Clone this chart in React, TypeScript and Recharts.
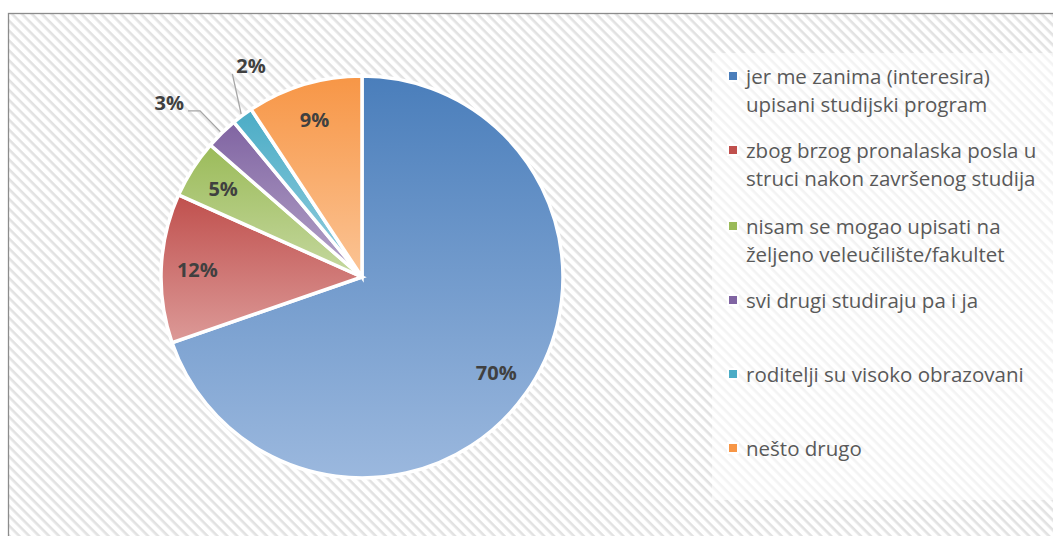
import React from 'react';
import { PieChart, Pie, Cell, Legend } from 'recharts';

const categories = [
  'jer me zanima (interesira) upisani studijski program',
  'zbog brzog pronalaska posla u struci nakon završenog studija',
  'nisam se mogao upisati na željeno veleučilište/fakultet',
  'svi drugi studiraju pa i ja',
  'roditelji su visoko obrazovani',
  'nešto drugo',
];
const shares = [69.7, 12.0, 4.7, 2.6, 1.7, 9.3];

// gradient top / bottom per slice (excel style)
const topColors = ['#4a7ebb', '#c0504d', '#9bbb59', '#8064a2', '#4bacc6', '#f79646'];
const bottomColors = ['#9bb8de', '#dc9a98', '#c5d89f', '#b5a5c9', '#95cfdf', '#fbc495'];

const data = categories.map((name, i) => ({ name, value: shares[i] }));

const RADIAN = Math.PI / 180;

// wrap legend text by character count, like the excel legend box does
const wrap = (s: string, max: number) => {
  const lines: string[] = [];
  let cur = '';
  s.split(' ').forEach((w) => {
    if (cur && (cur + ' ' + w).length > max) {
      lines.push(cur);
      cur = w;
    } else {
      cur = cur ? cur + ' ' + w : w;
    }
  });
  if (cur) lines.push(cur);
  return lines;
};

const renderLabel = (props: any) => {
  const { cx, cy, midAngle, outerRadius, percent, index } = props;
  const txt = `${Math.round(percent * 100)}%`;
  const style = { fontFamily: 'Open Sans, sans-serif', fontWeight: 700, fontSize: 20, fill: '#404040' };
  const cos = Math.cos(-midAngle * RADIAN);
  const sin = Math.sin(-midAngle * RADIAN);
  if (index === 3) {
    const sx = cx + (outerRadius + 2) * cos;
    const sy = cy + (outerRadius + 2) * sin;
    const ex = cx + (outerRadius + 31) * cos;
    const ey = cy + (outerRadius + 31) * sin;
    return (
      <g>
        <polyline points={`${sx},${sy} ${ex},${ey} ${ex - 12},${ey}`} fill="none" stroke="#a6a6a6" strokeWidth={1.3} />
        <text x={ex - 16} y={ey - 8} textAnchor="end" dominantBaseline="central" style={style}>{txt}</text>
      </g>
    );
  }
  if (index === 4) {
    const a = (midAngle - 4) * RADIAN;
    const sx = cx + (outerRadius + 2) * cos;
    const sy = cy + (outerRadius + 2) * sin;
    const ex = cx + (outerRadius + 40) * Math.cos(-a);
    const ey = cy + (outerRadius + 40) * Math.sin(-a);
    return (
      <g>
        <polyline points={`${sx},${sy} ${ex},${ey}`} fill="none" stroke="#a6a6a6" strokeWidth={1.3} />
        <text x={ex + 4} y={ey - 8} textAnchor="start" dominantBaseline="central" style={style}>{txt}</text>
      </g>
    );
  }
  const r = outerRadius * 0.82;
  return (
    <text x={cx + r * cos} y={cy + r * sin} textAnchor="middle" dominantBaseline="central" style={style}>
      {txt}
    </text>
  );
};

const renderLegend = () => {
  return (
    <div style={{ fontFamily: 'Open Sans, sans-serif', fontSize: 20.5, color: '#595959', lineHeight: '28px' }}>
      {categories.map((name, i) => (
        <div key={i} style={{ display: 'flex', alignItems: 'flex-start', height: i === 1 ? 76 : 74 }}>
          <span
            style={{
              display: 'inline-block',
              width: 8,
              height: 8,
              marginTop: 10,
              marginRight: 9,
              background: topColors[i],
              outline: '2px solid white',
              flexShrink: 0,
            }}
          />
          <span style={{ whiteSpace: 'nowrap' }}>
            {wrap(name, 30).map((ln, j) => (
              <div key={j}>{ln}</div>
            ))}
          </span>
        </div>
      ))}
    </div>
  );
};

const App = () => {
  return (
    <div style={{ position: 'absolute', left: 0, top: 0, width: 1053, height: 536 }}>
      <svg width={1053} height={536} style={{ position: 'absolute', left: 0, top: 0 }}>
        <defs>
          <pattern id="hatch" width={7} height={7} patternUnits="userSpaceOnUse" patternTransform="rotate(45)">
            <rect width={7} height={7} fill="#ffffff" />
            <rect width={7} height={2.6} fill="#e2e2e2" />
          </pattern>
          {topColors.map((c, i) => (
            <linearGradient key={i} id={`grad${i}`} x1="0" y1="0" x2="0" y2="1">
              <stop offset="0%" stopColor={c} />
              <stop offset="100%" stopColor={bottomColors[i]} />
            </linearGradient>
          ))}
        </defs>
        <rect x={8.5} y={13.5} width={1060} height={540} fill="url(#hatch)" stroke="#8c8c8c" strokeWidth={1.3} />
        <rect x={712} y={53} width={345} height={447} fill="#ffffff" fillOpacity={0.6} />
      </svg>
      <div style={{ position: 'absolute', left: 0, top: 0 }}>
        <PieChart width={1053} height={536} margin={{ top: 0, right: 0, bottom: 0, left: 0 }}>
          <Pie
            data={data}
            dataKey="value"
            nameKey="name"
            cx={362}
            cy={277}
            outerRadius={201}
            startAngle={90}
            endAngle={-270}
            stroke="#ffffff"
            strokeWidth={3.5}
            label={renderLabel}
            labelLine={false}
            isAnimationActive={false}
          >
            {data.map((d, i) => (
              <Cell key={d.name} fill={`url(#grad${i})`} />
            ))}
          </Pie>
          <Legend
            layout="vertical"
            content={renderLegend}
            wrapperStyle={{ position: 'absolute', left: 729, top: 62, width: 320 }}
          />
        </PieChart>
      </div>
    </div>
  );
};

export default App;
